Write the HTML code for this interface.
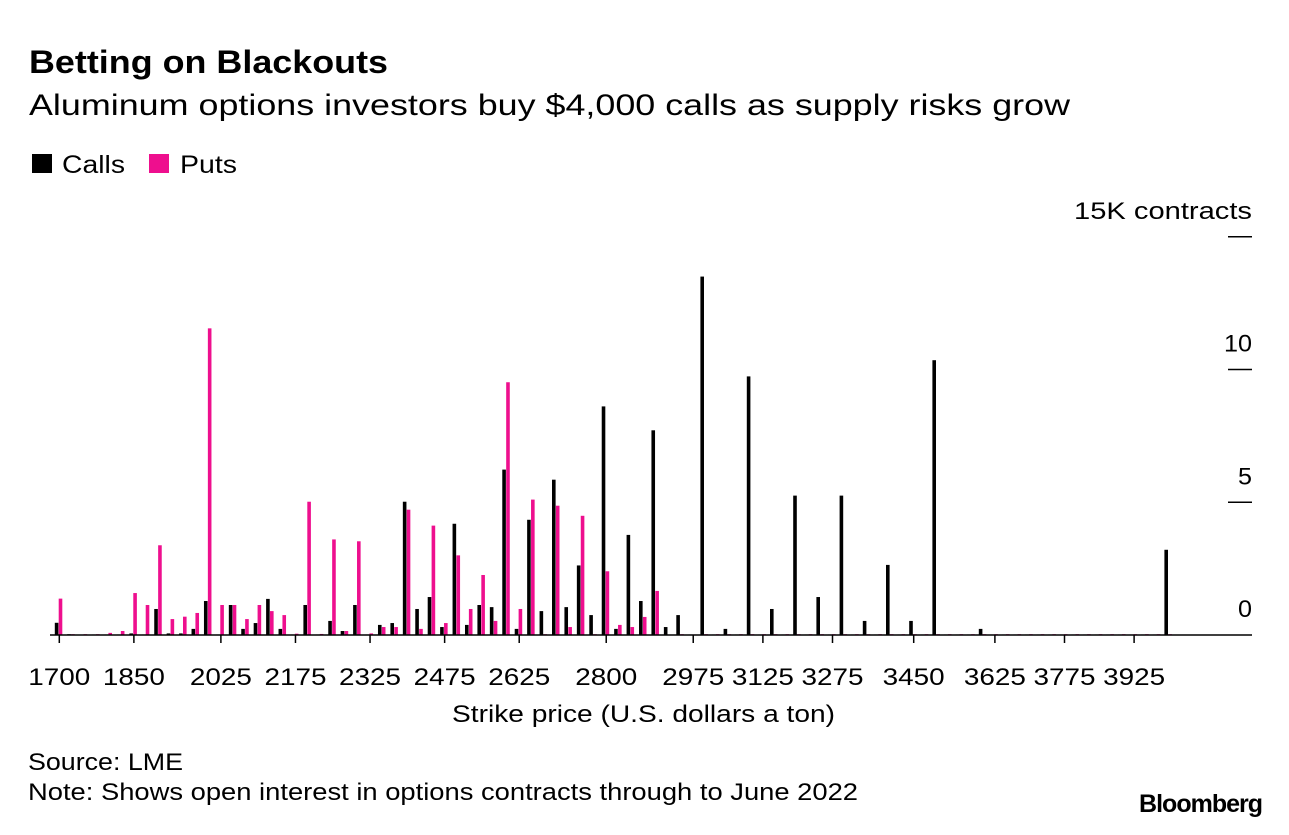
<!DOCTYPE html>
<html><head><meta charset="utf-8"><style>
body{margin:0;background:#fff;width:1289px;height:830px;overflow:hidden;font-family:"Liberation Sans",sans-serif;}
svg text{font-family:"Liberation Sans",sans-serif;}
</style></head><body>
<svg id="chart" width="1289" height="830">
<text x="29" y="73" font-size="32" font-weight="bold" fill="#000" textLength="359" lengthAdjust="spacingAndGlyphs">Betting on Blackouts</text>
<text x="29" y="115" font-size="30" fill="#000" textLength="1041" lengthAdjust="spacingAndGlyphs">Aluminum options investors buy $4,000 calls as supply risks grow</text>
<g>
<rect x="32" y="154" width="20" height="19" fill="#000"/>
<text x="62" y="173" font-size="25" textLength="63" lengthAdjust="spacingAndGlyphs">Calls</text>
<rect x="149" y="154" width="20" height="19" fill="#ee0f8e"/>
<text x="180" y="173" font-size="25" textLength="57" lengthAdjust="spacingAndGlyphs">Puts</text>
</g>
<g id="yaxis"></g>
<g id="bars"></g>
<g id="xaxis"></g>
<text x="452" y="722" font-size="24" textLength="383" lengthAdjust="spacingAndGlyphs">Strike price (U.S. dollars a ton)</text>
<text x="28" y="770" font-size="24" textLength="155" lengthAdjust="spacingAndGlyphs">Source: LME</text>
<text x="28" y="800" font-size="24" textLength="830" lengthAdjust="spacingAndGlyphs">Note: Shows open interest in options contracts through to June 2022</text>
<text x="1262" y="812" font-size="25" font-weight="bold" text-anchor="end" letter-spacing="-1">Bloomberg</text>
</svg>
<script>
const strikes = [];
for (let s = 1700; s <= 4000; s += 25) strikes.push(s);
const calls = [0.46,0.03,0,0.02,0.02,0.02,0.06,0.02,0.98,0.06,0.06,0.23,1.28,0.02,1.13,0.23,0.45,1.36,0.23,0.02,1.13,0.02,0.53,0.15,1.13,0.02,0.38,0.45,5.02,0.98,1.43,0.3,4.19,0.38,1.13,1.05,6.23,0.23,4.34,0.9,5.85,1.05,2.62,0.75,8.61,0.23,3.77,1.28,7.71,0.3,0.75,0.02,13.5,0.02,0.23,0.02,9.74,0.02,0.98,0.02,5.25,0.02,1.43,0.02,5.25,0.02,0.53,0.02,2.64,0.02,0.53,0.02,10.35,0.02,0.02,0.02,0.23,0.02,0.02,0.02,0.02,0.02,0.02,0.02,0.02,0.02,0.02,0.02,0.02,0.02,0.02,0.02,3.21];
const puts = [1.37,0.03,0.03,0.03,0.08,0.15,1.58,1.13,3.38,0.6,0.69,0.83,11.55,1.13,1.13,0.6,1.13,0.9,0.75,0.05,5.02,0.04,3.6,0.15,3.53,0.06,0.3,0.3,4.72,0.23,4.12,0.45,3.0,0.98,2.26,0.53,9.52,0.98,5.1,0.03,4.87,0.3,4.49,0.03,2.4,0.38,0.3,0.68,1.66,0.02,0.03,0.02,0.03,0.03,0.03,0.03,0.03,0.03,0.03,0.03,0.03,0.03,0.03,0.03,0.03,0.03,0.03,0.03,0.03,0.03,0.03,0.03,0.03,0.03,0.03,0.03,0.03,0.03,0.03,0.03,0.03,0.03,0.03,0.03,0.03,0.03,0.03,0.03,0.03,0.03,0.03,0.03,0.03];
const xTickLabels = [1700,1850,2025,2175,2325,2475,2625,2800,2975,3125,3275,3450,3625,3775,3925];
const yTicks = [0,5,10,15];

const NS = "http://www.w3.org/2000/svg";
function xs(i){ return i <= 51 ? 59.3 + 12.43*i : 693.3 + 11.6*(i-51); }
function ys(v){ return 635 - v*26.55; }
function mk(tag, attrs, parent){ const e=document.createElementNS(NS,tag); for(const k in attrs) e.setAttribute(k,attrs[k]); parent.appendChild(e); return e; }

const yg = document.getElementById('yaxis');
yTicks.forEach(t=>{
  if (t>0){
    const l = mk('line',{x1:1228,x2:1252,y1:ys(t),y2:ys(t),stroke:'#000','stroke-width':1.5},yg);
    
    
  }
  const label = t===15 ? '15K contracts' : String(t);
  const tx = mk('text',{x:1252,y:ys(t)-18,'font-size':24,'text-anchor':'end',textLength: t===15?178:(label.length*14),lengthAdjust:'spacingAndGlyphs'},yg);
  tx.textContent = label;
  
  
});

const bg = document.getElementById('bars');
strikes.forEach((s,i)=>{
  const c = calls[i] || 0, p = puts[i] || 0;
  const cx = xs(i);
  const rc = mk('rect',{x:cx-4.5,y:ys(c),width:3.6,height:Math.max(0,635-ys(c)),fill:'#000'},bg);
  
  
  const rp = mk('rect',{x:cx-0.6,y:ys(p),width:3.6,height:Math.max(0,635-ys(p)),fill:'#ee0f8e'},bg);
  
  
});

const xg = document.getElementById('xaxis');
const base = mk('line',{x1:50,x2:1252,y1:635,y2:635,stroke:'#000','stroke-width':1.5},xg);


xTickLabels.forEach(s=>{
  const i = strikes.indexOf(s);
  const x = xs(i);
  const tk = mk('line',{x1:x,x2:x,y1:635,y2:643,stroke:'#000','stroke-width':1.5},xg);
  
  
  const tx = mk('text',{x:x-31,y:685,'font-size':24,textLength:62,lengthAdjust:'spacingAndGlyphs'},xg);
  tx.textContent = String(s);
  
  
});
</script>
</body></html>
